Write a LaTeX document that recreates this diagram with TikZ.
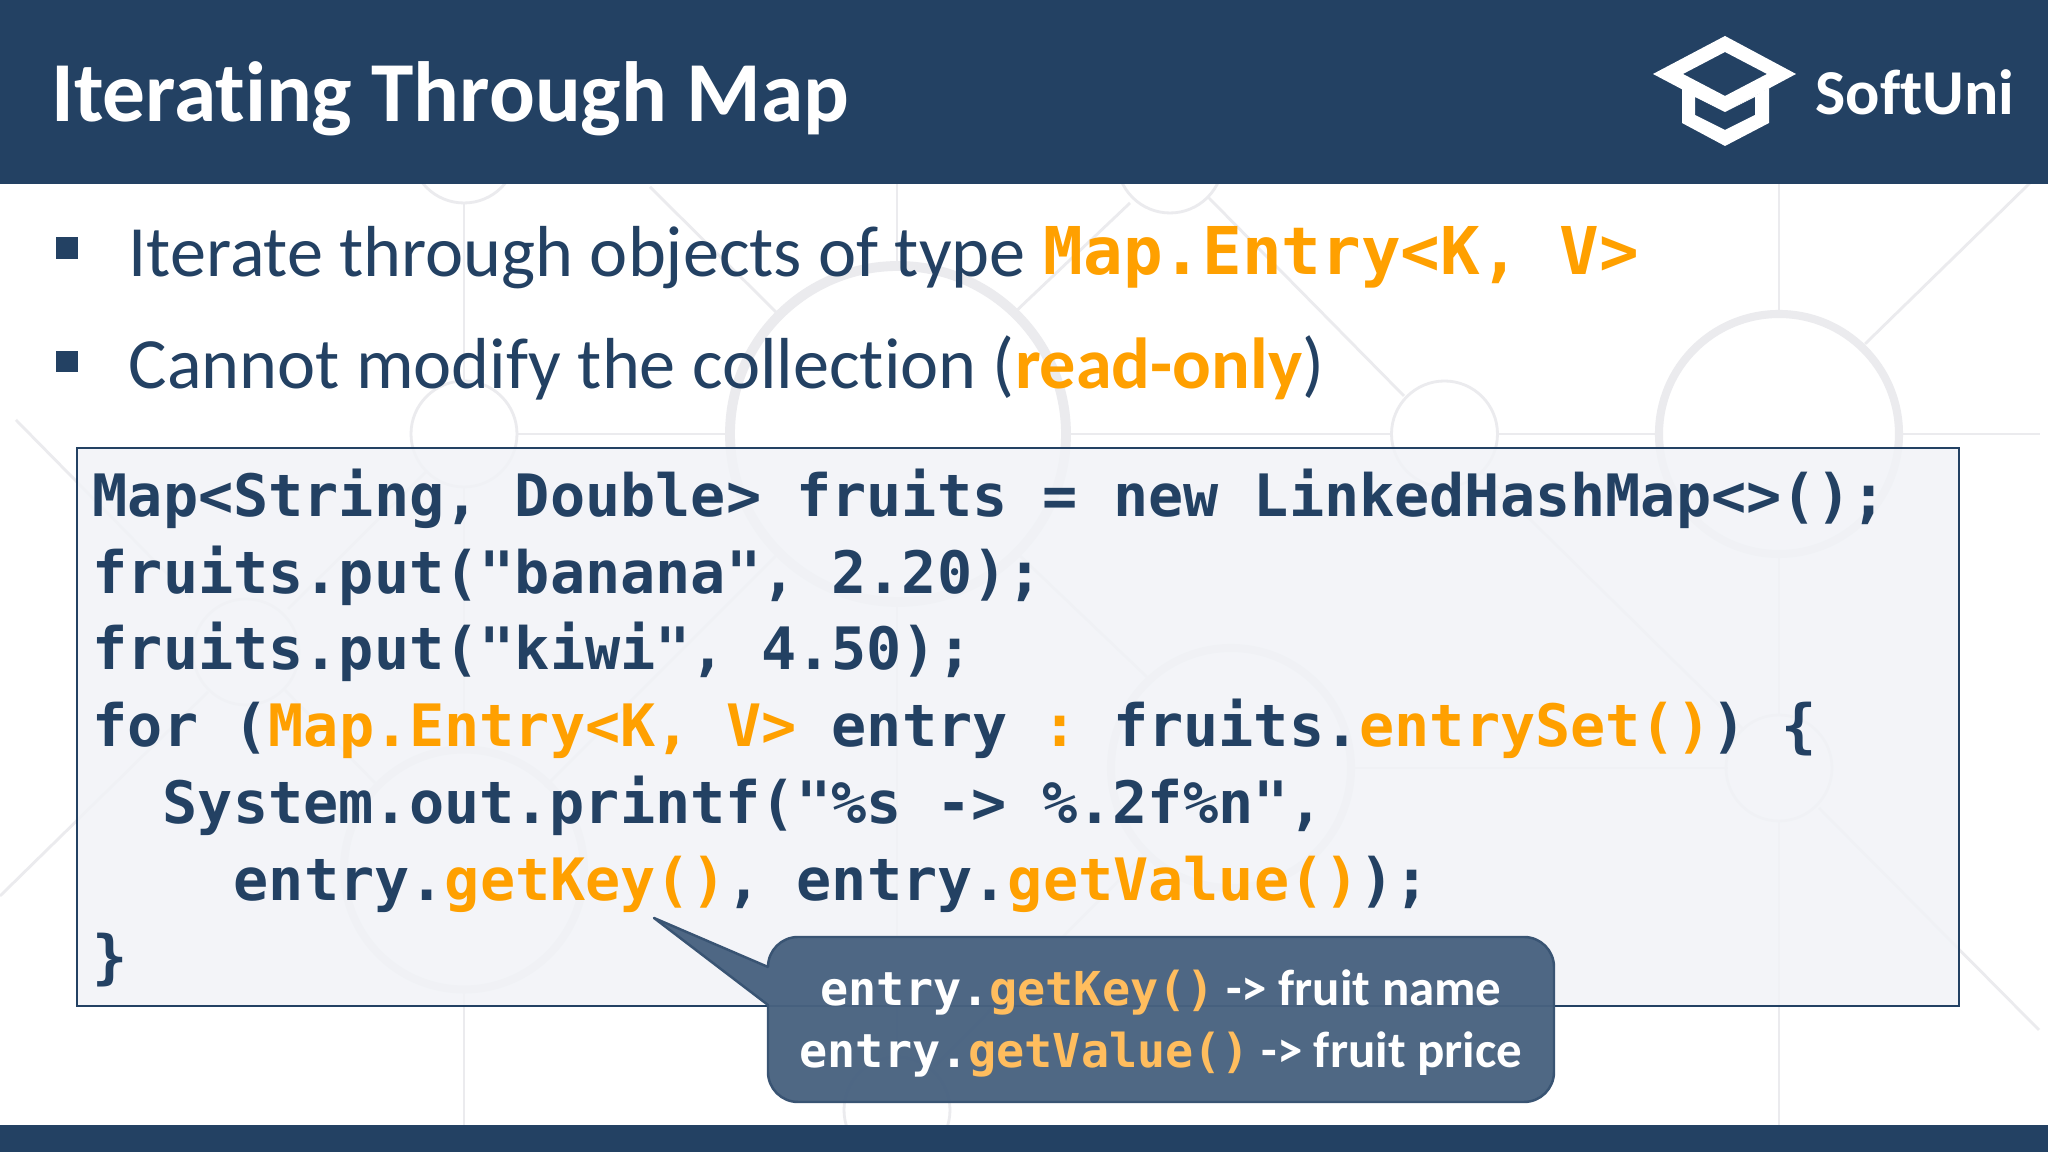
\documentclass[tikz,border=0pt]{standalone}
\usepackage{fontspec}
\setmainfont{Carlito}[Ligatures=NoCommon]
\setmonofont{DejaVu Sans Mono}
\definecolor{softblue}{HTML}{234163}
\definecolor{softorange}{HTML}{FFA000}
\definecolor{softpale}{HTML}{FFBD5E}
\definecolor{softgrey}{HTML}{EBEBEE}
\definecolor{softpanel}{HTML}{F1F3F7}
\definecolor{softnote}{HTML}{486280}
\tikzset{
	bgthin/.style={draw=softgrey, line width=0.8pt},
	bgthick/.style={draw=softgrey, line width=2.3pt},
	titletext/.style={anchor=base west, inner sep=0, text=white, font=\fontsize{24.3}{28}\selectfont\bfseries},
	bullettext/.style={anchor=base west, inner sep=0, text=softblue, font=\fontsize{20.55}{24}\selectfont},
	codetext/.style={anchor=base west, inner sep=0, text=softblue, font=\fontsize{16.63}{20}\selectfont\ttfamily\bfseries},
	notetext/.style={anchor=base west, inner sep=0, text=white, font=\fontsize{14.5}{17}\selectfont\bfseries},
}
\newcommand{\hi}[1]{\textcolor{softorange}{#1}}
\newcommand{\pale}[1]{\textcolor{softpale}{\ttfamily\fontsize{13.3}{16}\selectfont #1}}
\newcommand{\plain}[1]{{\ttfamily\fontsize{13.3}{16}\selectfont #1}}

\begin{document}
\begin{tikzpicture}
	%%%%% START %%%%%
	\useasboundingbox (0, 0) rectangle (20.48, 11.52);
	\fill[white] (0, 0) rectangle (20.48, 11.52);
	
	% background net
	\draw[bgthin] (4.64, 10.02) circle (0.53);
	\draw[bgthin] (11.70, 9.92) circle (0.53);
	\draw[bgthin] (4.64, 7.18) circle (0.53);
	\draw[bgthin] (14.445, 7.18) circle (0.53);
	\draw[bgthin] (2.46, 5.00) circle (0.53);
	\draw[bgthin] (17.79, 3.84) circle (0.53);
	\draw[bgthin] (8.97, 0.42) circle (0.53);
	\draw[bgthick, line width=2.8pt] (8.98, 7.18) circle (1.68);
	\draw[bgthick] (17.79, 7.18) circle (1.20);
	\draw[bgthick] (12.31, 3.84) circle (1.20);
	\draw[bgthick] (4.64, 2.825) circle (1.20);
	
	\draw[bgthin] (4.64, 9.49) -- (4.64, 7.70);
	\draw[bgthin] (4.64, 6.64) -- (4.64, 4.05);
	\draw[bgthin] (4.64, 1.60) -- (4.64, 0.27);
	\draw[bgthin] (17.79, 9.69) -- (17.79, 8.40);
	\draw[bgthin] (17.79, 5.96) -- (17.79, 4.37);
	\draw[bgthin] (17.79, 3.31) -- (17.79, 0.27);
	\draw[bgthin] (8.97, 9.69) -- (8.97, 8.88);
	\draw[bgthin] (8.97, 5.48) -- (8.97, 0.95);
	
	\draw[bgthin] (5.17, 7.18) -- (7.28, 7.18);
	\draw[bgthin] (10.68, 7.18) -- (13.91, 7.18);
	\draw[bgthin] (14.98, 7.18) -- (16.58, 7.18);
	\draw[bgthin] (19.02, 7.18) -- (20.40, 7.18);
	\draw[bgthin] (13.54, 3.84) -- (17.28, 3.84);
	
	\draw[bgthin] (10.13, 8.38) -- (11.30, 9.49);
	\draw[bgthin] (12.08, 9.55) -- (14.04, 7.56);
	\draw[bgthin] (14.81, 6.81) -- (17.44, 4.22);
	\draw[bgthin] (18.65, 8.08) -- (20.30, 9.69);
	\draw[bgthin] (18.19, 3.44) -- (20.39, 1.22);
	\draw[bgthin] (10.18, 5.98) -- (11.47, 4.75);
	\draw[bgthin] (11.45, 2.98) -- (9.35, 0.86);
	\draw[bgthin] (3.75, 3.69) -- (2.85, 4.62);
	\draw[bgthin] (5.45, 3.65) -- (7.80, 6.00);
	\draw[bgthin] (2.08, 4.60) -- (0, 2.56);
	\draw[bgthin] (2.88, 5.43) -- (4.26, 6.80);
	\draw[bgthin] (1.91, 5.54) -- (0.16, 7.32);
	\draw[bgthin] (6.50, 9.65) -- (7.81, 8.35);
	
	% header and footer
	\fill[softblue] (0, 9.675) rectangle (20.48, 11.52);
	\fill[softblue] (0, 0) rectangle (20.48, 0.265);
	\node[titletext] (title) at (0.505, 10.30) {Iterating Through Map};
	
	% logo
	\fill[white, even odd rule] (16.53, 10.78) -- (17.25, 11.16) -- (17.96, 10.78) -- (17.25, 10.40) -- cycle
		(16.83, 10.78) -- (17.25, 11.00) -- (17.67, 10.78) -- (17.25, 10.56) -- cycle;
	\fill[white, even odd rule] (16.82, 10.64) -- (16.82, 10.29) -- (17.25, 10.06) -- (17.69, 10.29) -- (17.69, 10.64) -- (17.25, 10.40) -- cycle
		(16.95, 10.55) -- (16.95, 10.37) -- (17.25, 10.22) -- (17.55, 10.37) -- (17.55, 10.55) -- (17.25, 10.40) -- cycle;
	\node[anchor=base west, inner sep=0, text=white, font=\fontsize{18.2}{22}\selectfont\bfseries] (brand) at (18.15, 10.37) {SoftUni};
	
	% bullets
	\fill[softblue] (0.56, 8.93) rectangle (0.78, 9.15);
	\fill[softblue] (0.56, 7.80) rectangle (0.78, 8.01);
	\node[bullettext] (iterate) at (1.28, 8.75) {Iterate through objects of type};
	\node[codetext, text=softorange, font=\fontsize{18.75}{22}\selectfont\ttfamily\bfseries] (entrytype) at (10.43, 8.77) {Map.Entry<K, V>};
	\node[bullettext] (modify) at (1.28, 7.63) {Cannot modify the collection (\textcolor{softorange}{\bfseries read-only})};
	
	% code
	\draw[draw=softblue, line width=0.6pt, fill=softpanel, fill opacity=0.85] (0.77, 7.04) rectangle (19.59, 1.46);
	\node[codetext] (lineA) at (0.92, 6.35) {Map<String, Double> fruits = new LinkedHashMap<>();};
	\node[codetext] (lineB) at (0.92, 5.585) {fruits.put("banana", 2.20);};
	\node[codetext] (lineC) at (0.92, 4.825) {fruits.put("kiwi", 4.50);};
	\node[codetext] (lineD) at (0.92, 4.055) {for (\hi{Map.Entry<K, V>} entry \hi{:} fruits.\hi{entrySet()}) \{};
	\node[codetext] (lineE) at (1.62, 3.285) {System.out.printf("\%s -> \%.2f\%n",};
	\node[codetext] (lineF) at (2.33, 2.51) {entry.\hi{getKey()}, entry.\hi{getValue()});};
	\node[codetext] (lineG) at (0.92, 1.74) {\}};
	
	% callout
	\draw[draw=softblue!90, line width=0.7pt, line join=round, fill=softnote, fill opacity=0.96] (7.68, 1.85) -- (6.54, 2.34) -- (7.68, 1.47) -- (7.68, 0.80) arc (180:270:0.3) -- (15.24, 0.50) arc (270:360:0.3) -- (15.54, 1.85) arc (0:90:0.3) -- (7.98, 2.15) arc (90:180:0.3) -- cycle;
	\node[notetext] (noteA) at (8.20, 1.46) {\plain{entry.}\pale{getKey()} -> fruit name};
	\node[notetext] (noteB) at (7.99, 0.84) {\plain{entry.}\pale{getValue()} -> fruit price};
	
	%%%%% END %%%%%
\end{tikzpicture}
\end{document}
